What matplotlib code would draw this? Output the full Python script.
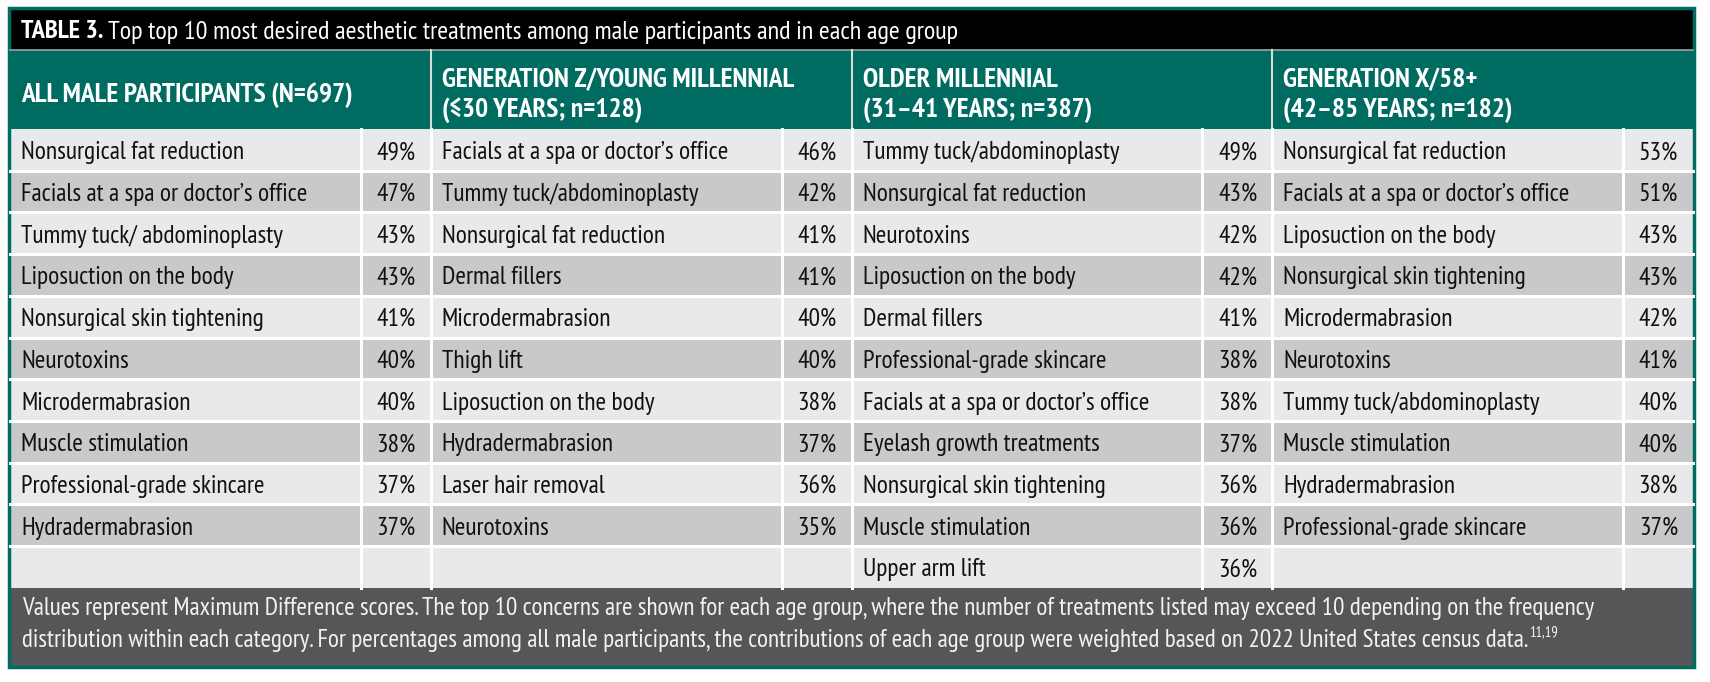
"""Table 3: top 10 most desired aesthetic treatments among male participants,
drawn as a pixel-space table on a single axes."""

import matplotlib

matplotlib.use("Agg")
import matplotlib.pyplot as plt
from matplotlib.patches import Rectangle

W, H = 1710, 682

TITLE_BOLD = "TABLE 3."
TITLE_REST = " Top top 10 most desired aesthetic treatments among male participants and in each age group"

HEADERS = [
    "ALL MALE PARTICIPANTS (N=697)",
    "GENERATION Z/YOUNG MILLENNIAL\n(\u226430 YEARS; n=128)",
    "OLDER MILLENNIAL\n(31\u201341 YEARS; n=387)",
    "GENERATION X/58+\n(42\u201385 YEARS; n=182)",
]

all_male = ["Nonsurgical fat reduction", "Facials at a spa or doctor\u2019s office",
            "Tummy tuck/ abdominoplasty", "Liposuction on the body",
            "Nonsurgical skin tightening", "Neurotoxins", "Microdermabrasion",
            "Muscle stimulation", "Professional-grade skincare", "Hydradermabrasion"]
all_male_pct = [49, 47, 43, 43, 41, 40, 40, 38, 37, 37]

gen_z = ["Facials at a spa or doctor\u2019s office", "Tummy tuck/abdominoplasty",
         "Nonsurgical fat reduction", "Dermal fillers", "Microdermabrasion",
         "Thigh lift", "Liposuction on the body", "Hydradermabrasion",
         "Laser hair removal", "Neurotoxins"]
gen_z_pct = [46, 42, 41, 41, 40, 40, 38, 37, 36, 35]

older_mill = ["Tummy tuck/abdominoplasty", "Nonsurgical fat reduction", "Neurotoxins",
              "Liposuction on the body", "Dermal fillers", "Professional-grade skincare",
              "Facials at a spa or doctor\u2019s office", "Eyelash growth treatments",
              "Nonsurgical skin tightening", "Muscle stimulation", "Upper arm lift"]
older_mill_pct = [49, 43, 42, 42, 41, 38, 38, 37, 36, 36, 36]

gen_x = ["Nonsurgical fat reduction", "Facials at a spa or doctor\u2019s office",
         "Liposuction on the body", "Nonsurgical skin tightening", "Microdermabrasion",
         "Neurotoxins", "Tummy tuck/abdominoplasty", "Muscle stimulation",
         "Hydradermabrasion", "Professional-grade skincare"]
gen_x_pct = [53, 51, 43, 43, 42, 41, 40, 40, 38, 37]

FOOTNOTE = [
    "Values represent Maximum Difference scores. The top 10 concerns are shown for each age group, "
    "where the number of treatments listed may exceed 10 depending on the frequency",
    "distribution within each category. For percentages among all male participants, "
    "the contributions of each age group were weighted based on 2022 United States census data.",
]

TEAL = "#006b61"
LIGHT = "#e8e9eb"
DARK = "#c8c9cb"
FOOT_BG = "#555658"

FONT = ["PT Sans Narrow", "DejaVu Sans"]
ROW_FS = 18.4
HEAD_FS = 19.8
TITLE_FS = 18.9
FOOT_FS = 18.2

# layout (pixels)
LEFT, RIGHT = 10, 1693
TOP_TITLE, TOP_HEAD, TOP_ROWS = 10, 50, 129
ROW_H = 41.7
N_ROWS = 11
FOOT_TOP = TOP_ROWS + ROW_H * N_ROWS
BOTTOM = 666
BLOCK_W = (RIGHT - LEFT) / 4
PCT_W = 70

fig = plt.figure(figsize=(W / 100, H / 100), dpi=100)
ax = fig.add_axes([0, 0, 1, 1])
ax.set_xlim(0, W)
ax.set_ylim(H, 0)
ax.axis("off")


def rect(x, y, w, h, color, **kw):
    ax.add_patch(Rectangle((x, y), w, h, facecolor=color, edgecolor="none", **kw))


# title bar
rect(LEFT, TOP_TITLE, RIGHT - LEFT, TOP_HEAD - TOP_TITLE, "black")
t = ax.text(21, 32, TITLE_BOLD, color="white", fontsize=TITLE_FS, fontweight="bold",
            family=FONT, va="center", ha="left")
fig.canvas.draw()
bb = t.get_window_extent()
ax.text(21 + bb.width, 32, TITLE_REST, color="white", fontsize=TITLE_FS,
        family=FONT, va="center", ha="left")

# header
rect(LEFT, TOP_HEAD, RIGHT - LEFT, TOP_ROWS - TOP_HEAD, TEAL)
ax.plot([LEFT, RIGHT], [TOP_HEAD, TOP_HEAD], color="#9aa5a3", lw=1.2)

columns = [(all_male, all_male_pct), (gen_z, gen_z_pct),
           (older_mill, older_mill_pct), (gen_x, gen_x_pct)]

for c, (hdr, (names, pcts)) in enumerate(zip(HEADERS, columns)):
    x0 = LEFT + c * BLOCK_W
    ax.text(x0 + 11, (TOP_HEAD + TOP_ROWS) / 2 + 6, hdr, color="white", fontsize=HEAD_FS,
            fontweight="bold", family=FONT, va="center", ha="left", linespacing=1.3)
    for r in range(N_ROWS):
        y = TOP_ROWS + r * ROW_H
        rect(x0, y, BLOCK_W, ROW_H, LIGHT if r % 2 == 0 else DARK)
        if r < len(names):
            ax.text(x0 + 11, y + ROW_H / 2 + 3, names[r], fontsize=ROW_FS, family=FONT,
                    color="#111111", va="center", ha="left")
            ax.text(x0 + BLOCK_W - 15, y + ROW_H / 2 + 3, f"{pcts[r]}%", fontsize=ROW_FS,
                    family=FONT, color="#111111", va="center", ha="right")
    # separators
    xs = x0 + BLOCK_W - PCT_W
    ax.plot([xs, xs], [TOP_ROWS, FOOT_TOP], color="white", lw=2.2)
    if c > 0:
        ax.plot([x0, x0], [TOP_HEAD, TOP_ROWS], color="#d5dedc", lw=1.5)
        ax.plot([x0, x0], [TOP_ROWS, FOOT_TOP], color="white", lw=2.2)

for r in range(1, N_ROWS):
    y = TOP_ROWS + r * ROW_H
    ax.plot([LEFT, RIGHT], [y, y], color="white", lw=2.2)

# footnote
rect(LEFT, FOOT_TOP, RIGHT - LEFT, BOTTOM - FOOT_TOP, FOOT_BG)
ax.text(22, 608, FOOTNOTE[0], color="#f2f2f2", fontsize=FOOT_FS, family=FONT,
        va="center", ha="left")
f2 = ax.text(22, 641, FOOTNOTE[1], color="#f2f2f2", fontsize=FOOT_FS, family=FONT,
             va="center", ha="left")
fig.canvas.draw()
bb2 = f2.get_window_extent()
ax.text(22 + bb2.width + 1, 632, "11,19", color="#f2f2f2", fontsize=10.5, family=FONT,
        va="center", ha="left")

# outer border
ax.add_patch(Rectangle((LEFT - 1, TOP_TITLE - 2), RIGHT - LEFT + 2, BOTTOM - TOP_TITLE + 3,
                       facecolor="none", edgecolor=TEAL, lw=2.5))

fig.savefig("out.png", dpi=100)
